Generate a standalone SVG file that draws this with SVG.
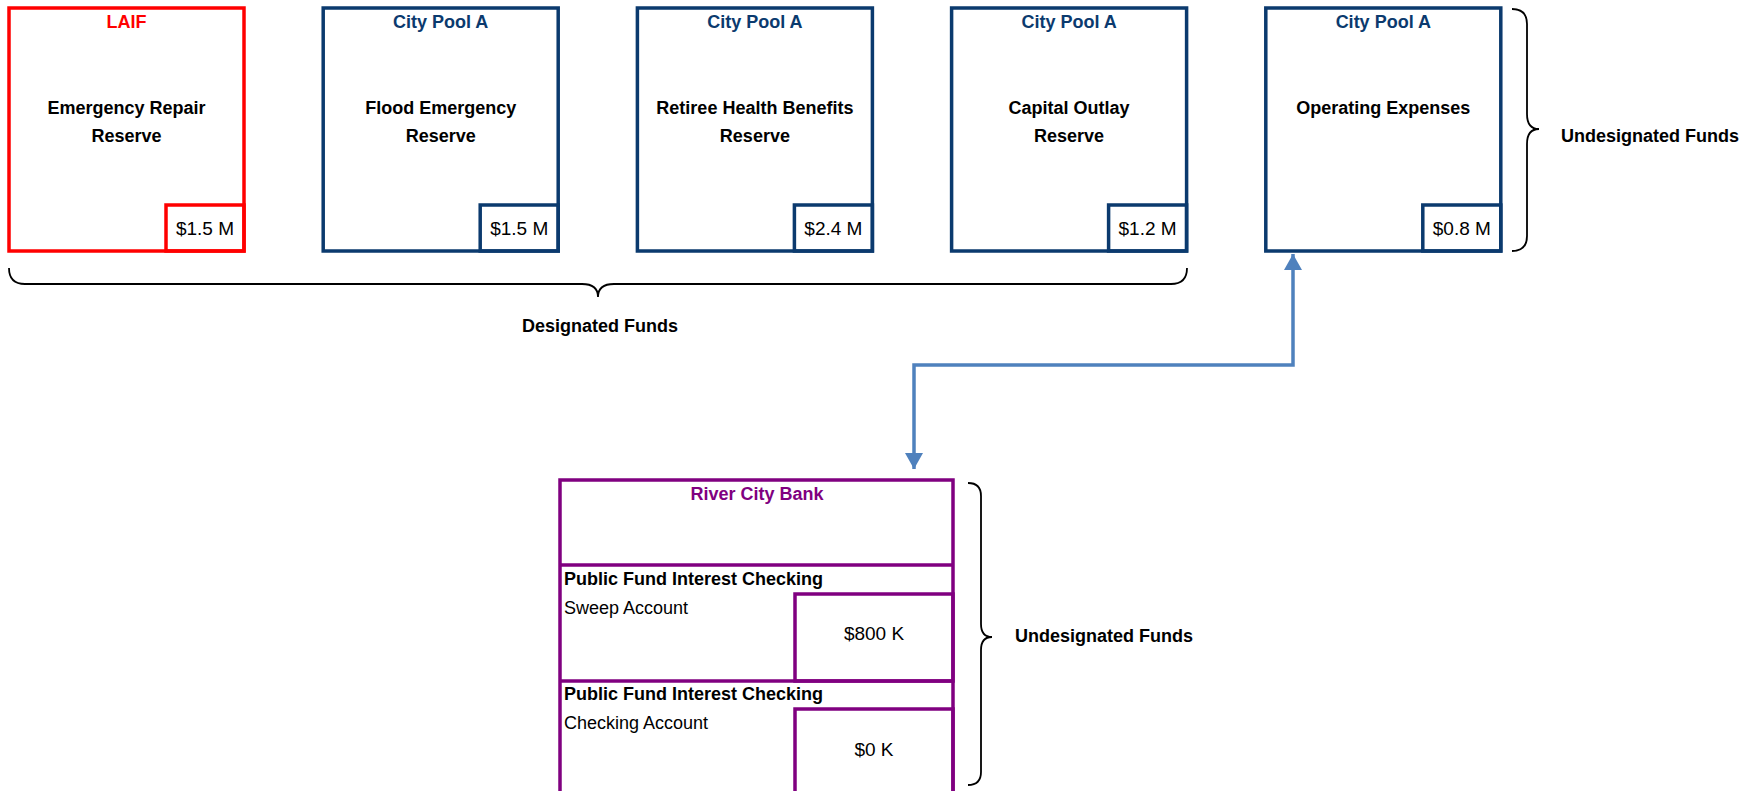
<svg xmlns="http://www.w3.org/2000/svg" width="1753" height="791" viewBox="0 0 1753 791">
<style>
text{font-family:"Liberation Sans",Arial,sans-serif;}
.b{font-weight:bold;font-size:18px;fill:#000;}
.r{font-size:18px;fill:#000;}
.v{font-size:19px;fill:#000;text-anchor:middle;}
.t{font-weight:bold;font-size:18px;text-anchor:middle;}
.c{text-anchor:middle;}
.navy{fill:none;stroke:#0B3A6E;stroke-width:3.5;}
.red{fill:none;stroke:#FF0000;stroke-width:3.5;}
.pur{fill:none;stroke:#800080;stroke-width:3.5;}
.brace{fill:none;stroke:#000;stroke-width:1.8;}
.conn{fill:none;stroke:#4F81BD;stroke-width:3.5;}
</style>
<defs>
<marker id="ah" markerUnits="userSpaceOnUse" markerWidth="20" markerHeight="20" refX="16" refY="9" orient="auto-start-reverse">
<path d="M0,0 L16,9 L0,18 Z" fill="#4F81BD"/>
</marker>
</defs>
<rect width="1753" height="791" fill="#fff"/>

<g id="laif">
<rect class="red" x="9" y="8" width="235" height="243"/>
<rect class="red" x="166" y="205" width="78" height="46"/>
<text class="t" x="126.5" y="28" fill="#FF0000">LAIF</text>
<text class="b c" x="126.5" y="114">Emergency Repair</text>
<text class="b c" x="126.5" y="142">Reserve</text>
<text class="v" x="205" y="235">$1.5 M</text>
</g>

<g id="flood">
<rect class="navy" x="323.2" y="8" width="235" height="243"/>
<rect class="navy" x="480.2" y="205" width="78" height="46"/>
<text class="t" x="440.7" y="28" fill="#0B3A6E">City Pool A</text>
<text class="b c" x="440.7" y="114">Flood Emergency</text>
<text class="b c" x="440.7" y="142">Reserve</text>
<text class="v" x="519.2" y="235">$1.5 M</text>
</g>

<g id="retiree">
<rect class="navy" x="637.4" y="8" width="235" height="243"/>
<rect class="navy" x="794.4" y="205" width="78" height="46"/>
<text class="t" x="754.9" y="28" fill="#0B3A6E">City Pool A</text>
<text class="b c" x="754.9" y="114">Retiree Health Benefits</text>
<text class="b c" x="754.9" y="142">Reserve</text>
<text class="v" x="833.4" y="235">$2.4 M</text>
</g>

<g id="capital">
<rect class="navy" x="951.6" y="8" width="235" height="243"/>
<rect class="navy" x="1108.6" y="205" width="78" height="46"/>
<text class="t" x="1069.1" y="28" fill="#0B3A6E">City Pool A</text>
<text class="b c" x="1069.1" y="114">Capital Outlay</text>
<text class="b c" x="1069.1" y="142">Reserve</text>
<text class="v" x="1147.6" y="235">$1.2 M</text>
</g>

<g id="operating">
<rect class="navy" x="1265.8" y="8" width="235" height="243"/>
<rect class="navy" x="1422.8" y="205" width="78" height="46"/>
<text class="t" x="1383.3" y="28" fill="#0B3A6E">City Pool A</text>
<text class="b c" x="1383.3" y="114">Operating Expenses</text>
<text class="v" x="1461.8" y="235">$0.8 M</text>
</g>

<g id="designated-brace">
<path class="brace" d="M9,268 Q9,284 25,284 L582,284 Q598,284 598,297 Q598,284 614,284 L1171,284 Q1187,284 1187,268"/>
<text class="b c" x="600" y="332">Designated Funds</text>
</g>

<g id="undesignated-brace-top">
<path class="brace" d="M1512,9 Q1527,9 1527,24 L1527,114 Q1527,129 1539,129 Q1527,129 1527,144 L1527,236 Q1527,251 1512,251"/>
<text class="b" x="1561" y="142">Undesignated Funds</text>
</g>

<g id="river-city-bank">
<rect class="pur" x="560" y="480" width="393" height="330"/>
<line class="pur" x1="560" y1="565" x2="953" y2="565"/>
<rect class="pur" x="795" y="594" width="158" height="87"/>
<line class="pur" x1="560" y1="681" x2="953" y2="681"/>
<rect class="pur" x="795" y="709" width="158" height="100"/>
<text class="t" x="757" y="500" fill="#800080">River City Bank</text>
<text class="b" x="564" y="585">Public Fund Interest Checking</text>
<text class="r" x="564" y="614">Sweep Account</text>
<text class="v" x="874" y="640">$800 K</text>
<text class="b" x="564" y="700">Public Fund Interest Checking</text>
<text class="r" x="564" y="729">Checking Account</text>
<text class="v" x="874" y="756">$0 K</text>
</g>

<g id="undesignated-brace-bottom">
<path class="brace" d="M968,483 Q981,483 981,496 L981,624 Q981,637 992,637 Q981,637 981,650 L981,772 Q981,785 968,785"/>
<text class="b" x="1015" y="642">Undesignated Funds</text>
</g>

<g id="connectors">
<path class="conn" d="M1293,254 L1293,365 L914,365 L914,469" marker-start="url(#ah)" marker-end="url(#ah)"/>
</g>
</svg>
